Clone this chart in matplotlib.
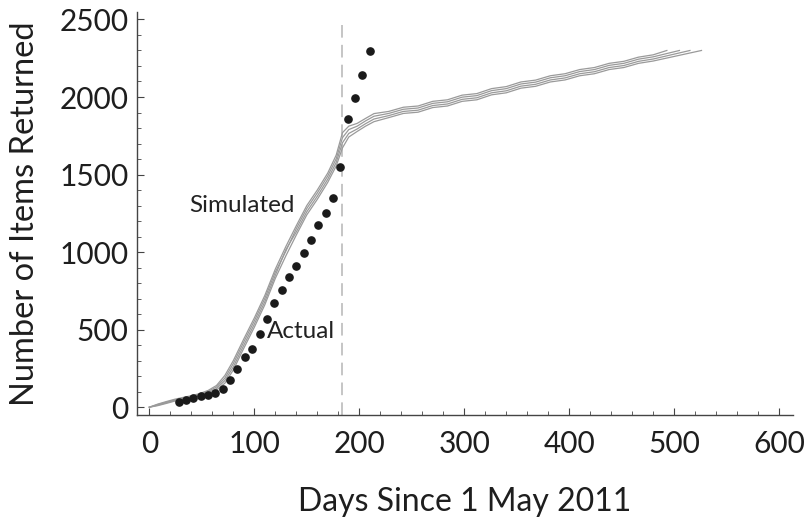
import numpy as np
import matplotlib.pyplot as plt

plt.rcParams['font.family'] = ['Lato', 'DejaVu Sans']

# Actual returns, counted weekly
actual_days = [28, 35, 42, 49, 56, 63, 70, 77, 84, 91, 98, 105, 112, 119,
               126, 133, 140, 147, 154, 161, 168, 175, 182, 189, 196, 203, 210]
actual_items = [36, 47, 58, 75, 81, 94, 118, 176, 249, 326, 378, 470, 567, 670,
                756, 838, 910, 992, 1078, 1173, 1254, 1347, 1546, 1858, 1995, 2141, 2298]

# Simulated runs share one day grid, then each stops at its own end day
sim_days = [0, 8, 16, 24, 32, 40, 48, 56, 64, 72, 80, 90, 100, 110, 120, 130,
            140, 150, 160, 170, 178, 184, 190, 198, 206, 214,
            228, 242, 256, 270, 284, 298, 312, 326, 340, 354, 368, 382, 396,
            410, 424, 438, 452, 466, 480]
sim_a = [0, 20, 36, 51, 63, 74, 88, 108, 140, 205, 300, 440, 575, 720, 890, 1035,
         1170, 1300, 1400, 1510, 1625, 1770, 1812, 1830, 1862, 1893,
         1907, 1934, 1942, 1972, 1982, 2012, 2022, 2054, 2067, 2097, 2109, 2137, 2150,
         2177, 2190, 2217, 2230, 2257, 2272]
sim_b = [0, 17, 32, 47, 59, 70, 83, 102, 130, 188, 281, 421, 556, 701, 871, 1005,
         1151, 1281, 1381, 1491, 1601, 1738, 1790, 1812, 1846, 1876,
         1894, 1921, 1929, 1959, 1969, 1999, 2009, 2041, 2054, 2084, 2096, 2124, 2137,
         2164, 2177, 2204, 2217, 2244, 2259]
sim_c = [0, 13, 28, 43, 55, 66, 77, 95, 120, 172, 260, 400, 535, 680, 850, 1015,
         1130, 1260, 1360, 1470, 1578, 1705, 1765, 1794, 1828, 1858,
         1880, 1907, 1915, 1945, 1955, 1985, 1995, 2027, 2040, 2070, 2082, 2110, 2123,
         2150, 2163, 2190, 2203, 2230, 2245]
sim_d = [0, 10, 24, 39, 51, 62, 72, 88, 110, 155, 240, 380, 515, 660, 830, 975,
         1110, 1240, 1340, 1450, 1555, 1672, 1742, 1778, 1812, 1841,
         1867, 1894, 1902, 1932, 1942, 1972, 1982, 2014, 2027, 2057, 2069, 2097, 2110,
         2137, 2150, 2177, 2190, 2217, 2232]
sim_runs = [sim_a, sim_b, sim_c, sim_d]
sim_end_days = [493, 505, 515, 526]
sim_end_items = [2300, 2300, 2300, 2300]

cutoff_day = 184

fig = plt.figure(figsize=(8.09, 5.20), dpi=100)
ax = fig.add_axes([0.169, 0.202, 0.811, 0.7755])

for run, end_day, end_items in zip(sim_runs, sim_end_days, sim_end_items):
    x = np.append(sim_days, end_day)
    y = np.append(run, end_items)
    ax.plot(x, y, color='#9a9a9a', lw=0.9, zorder=2)

ax.plot(actual_days, actual_items, 'o', color='#1a1a1a', ms=5.2, zorder=3)
ax.axvline(cutoff_day, ymax=0.98, color='#c0c0c0', lw=1.3, ls=(0, (7, 4)), zorder=1)

ax.text(38, 1300, 'Simulated', fontsize=17.5, color='#222222', va='center')
ax.text(112, 490, 'Actual', fontsize=17.5, color='#222222', va='center')

ax.set_xlim(-12, 613)
ax.set_ylim(-50, 2550)
ax.set_xticks(np.arange(0, 601, 100))
ax.set_xticks(np.arange(0, 601, 20), minor=True)
ax.set_yticks(np.arange(0, 2501, 500))
ax.set_yticks(np.arange(0, 2501, 100), minor=True)

for s in ['top', 'right']:
    ax.spines[s].set_visible(False)
for s in ['left', 'bottom']:
    ax.spines[s].set_color('#444444')
    ax.spines[s].set_linewidth(1.0)

ax.tick_params(which='both', direction='in', colors='#444444', labelcolor='#1e1e1e')
ax.tick_params(which='major', length=5, width=0.8, labelsize=21.5)
ax.tick_params(which='minor', length=3, width=0.6)
ax.tick_params(axis='x', which='major', pad=11)
ax.tick_params(axis='y', which='major', pad=6)

ax.set_xlabel('Days Since 1 May 2011', fontsize=23, color='#1e1e1e', labelpad=21)
ax.set_ylabel('Number of Items Returned', fontsize=23.5, color='#1e1e1e', labelpad=14)

fig.savefig('out.png', dpi=100)
